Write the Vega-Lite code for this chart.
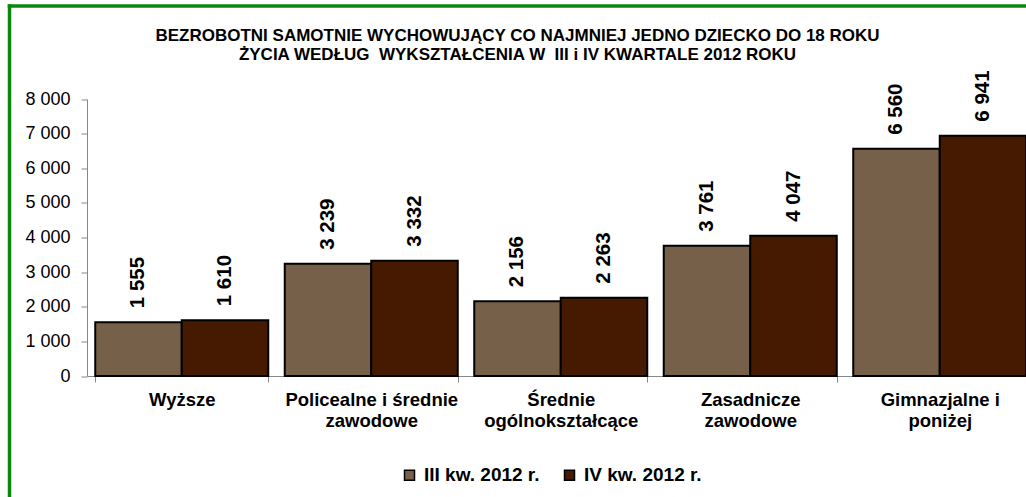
{
  "$schema": "https://vega.github.io/schema/vega-lite/v6.json",
  "width": 1017,
  "height": 370.5,
  "autosize": {"type": "none"},
  "padding": {"left": 9, "top": 5.5, "right": 0, "bottom": 121},
  "background": "white",
  "title": {
    "text": ["BEZROBOTNI SAMOTNIE WYCHOWUJĄCY CO NAJMNIEJ JEDNO DZIECKO DO 18 ROKU", "ŻYCIA WEDŁUG\u00a0 WYKSZTAŁCENIA W\u00a0 III i IV KWARTALE 2012 ROKU"],
    "orient": "top",
    "anchor": "middle",
    "frame": "group",
    "baseline": "top",
    "offset": -58,
    "font": "Liberation Sans",
    "fontSize": 17,
    "fontWeight": "bold",
    "lineHeight": 18.5,
    "color": "#000000"
  },
  "data": {
    "values": [
      {"category": "Wyższe", "series": "III kw. 2012 r.", "value": 1555},
      {"category": "Wyższe", "series": "IV kw. 2012 r.", "value": 1610},
      {"category": "Policealne i średnie zawodowe", "series": "III kw. 2012 r.", "value": 3239},
      {"category": "Policealne i średnie zawodowe", "series": "IV kw. 2012 r.", "value": 3332},
      {"category": "Średnie ogólnokształcące", "series": "III kw. 2012 r.", "value": 2156},
      {"category": "Średnie ogólnokształcące", "series": "IV kw. 2012 r.", "value": 2263},
      {"category": "Zasadnicze zawodowe", "series": "III kw. 2012 r.", "value": 3761},
      {"category": "Zasadnicze zawodowe", "series": "IV kw. 2012 r.", "value": 4047},
      {"category": "Gimnazjalne i poniżej", "series": "III kw. 2012 r.", "value": 6560},
      {"category": "Gimnazjalne i poniżej", "series": "IV kw. 2012 r.", "value": 6941}
    ]
  },
  "layer": [
    {
      "mark": {"type": "point", "opacity": 0},
      "encoding": {
        "x": {
          "datum": 0,
          "type": "quantitative",
          "scale": {"domain": [0, 1], "range": [0, 1017], "zero": false, "nice": false},
          "axis": {"orient": "top", "domainColor": "#0B870B", "domainWidth": 3.5, "domainCap": "square", "labels": false, "ticks": false, "grid": false, "title": null}
        },
        "y": {
          "datum": 0,
          "type": "quantitative",
          "scale": {"domain": [0, 1], "range": [491.5, 0], "zero": false, "nice": false},
          "axis": {"orient": "left", "domainColor": "#0B870B", "domainWidth": 3.5, "domainCap": "square", "labels": false, "ticks": false, "grid": false, "title": null}
        }
      }
    },
    {
      "encoding": {
        "x": {
          "field": "category",
          "type": "nominal",
          "sort": null,
          "scale": {"range": [78, 1025.5], "paddingInner": 0.087, "paddingOuter": 0.0435, "align": 0.5},
          "axis": {
            "orient": "bottom",
            "title": null,
            "labelAngle": 0,
            "domainColor": "#888888",
            "tickColor": "#888888",
            "tickSize": 6,
            "tickBand": "extent",
            "labelFont": "Liberation Sans",
            "labelFontSize": 18.5,
            "labelFontWeight": "bold",
            "labelColor": "#000000",
            "labelPadding": 8,
            "labelLineHeight": 21,
            "labelExpr": "lastindexof(datum.label, ' ') > 0 ? [substring(datum.label, 0, lastindexof(datum.label, ' ')), substring(datum.label, lastindexof(datum.label, ' ') + 1)] : datum.label"
          }
        },
        "xOffset": {"field": "series", "type": "nominal", "scale": {"paddingInner": 0, "paddingOuter": 0}},
        "y": {
          "field": "value",
          "type": "quantitative",
          "scale": {"domain": [0, 8000], "range": [370.5, 93.5], "nice": false},
          "axis": {
            "orient": "left",
            "offset": -78,
            "title": null,
            "grid": false,
            "values": [0, 1000, 2000, 3000, 4000, 5000, 6000, 7000, 8000],
            "labelExpr": "replace(format(datum.value, ','), ',', ' ')",
            "domainColor": "#888888",
            "tickColor": "#888888",
            "tickSize": 6,
            "labelPadding": 11,
            "labelFont": "Liberation Sans",
            "labelFontSize": 18,
            "labelColor": "#000000"
          }
        }
      },
      "layer": [
        {
          "mark": {"type": "bar", "stroke": "#000000", "strokeWidth": 2},
          "encoding": {
            "color": {
              "field": "series",
              "type": "nominal",
              "scale": {"domain": ["III kw. 2012 r.", "IV kw. 2012 r."], "range": ["#776049", "#461A00"]},
              "legend": {
                "orient": "none",
                "legendX": 391,
                "legendY": 460,
                "direction": "horizontal",
                "title": null,
                "symbolType": "square",
                "symbolSize": 100,
                "symbolStrokeColor": "#000000",
                "symbolStrokeWidth": 1.5,
                "symbolOpacity": 1,
                "labelFont": "Liberation Sans",
                "labelFontSize": 19,
                "labelFontWeight": "bold",
                "labelColor": "#000000",
                "labelOffset": 5,
                "columnPadding": 20,
                "padding": 0
              }
            }
          }
        },
        {
          "mark": {"type": "text", "angle": 270, "align": "left", "baseline": "middle", "dx": 14, "font": "Liberation Sans", "fontSize": 20.5, "fontWeight": "bold", "color": "#000000"},
          "encoding": {
            "text": {"field": "value", "type": "quantitative", "format": ",d"}
          }
        }
      ]
    }
  ],
  "resolve": {"scale": {"x": "independent", "y": "independent"}, "axis": {"x": "independent", "y": "independent"}},
  "config": {
    "view": {"stroke": null},
    "font": "Liberation Sans",
    "locale": {"number": {"decimal": ",", "thousands": " ", "grouping": [3], "currency": ["", " zł"]}}
  }
}
